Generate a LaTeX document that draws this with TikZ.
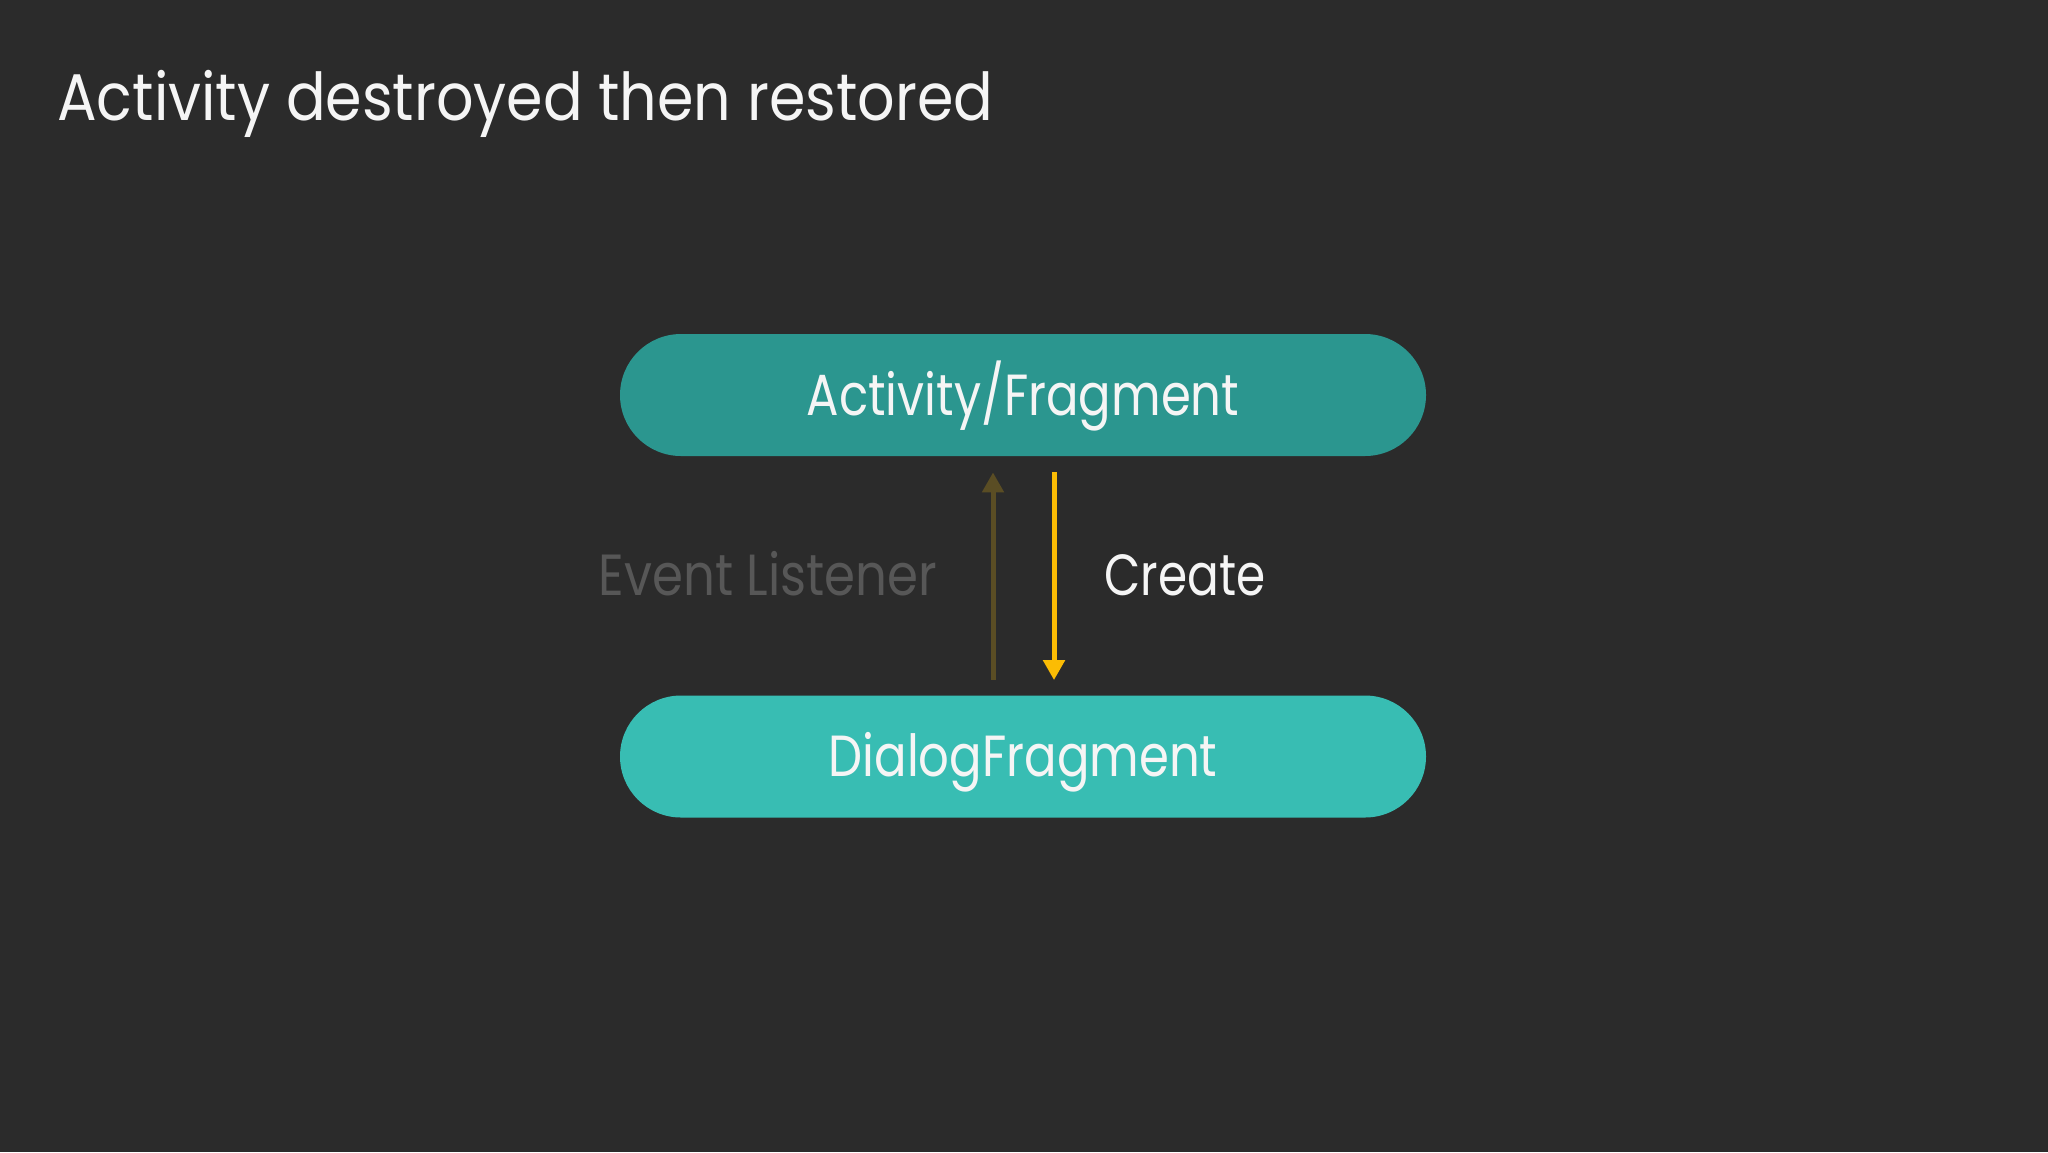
\documentclass[tikz,border=0pt]{standalone}
\usepackage{fontspec}
\setmainfont{Poppins}
\newfontfamily\titlefont[FakeStretch=0.89]{Poppins}
\newfontfamily\boxfont[FakeStretch=0.83]{Poppins}
\newfontfamily\evfont[FakeStretch=0.86]{Poppins}
\newfontfamily\crfont[FakeStretch=0.81]{Poppins}
\usetikzlibrary{arrows.meta}
\definecolor{bgc}{HTML}{2B2B2B}
\definecolor{topbox}{HTML}{2B968F}
\definecolor{botbox}{HTML}{38BDB3}
\definecolor{ylw}{HTML}{FBBC04}
\definecolor{dimarr}{HTML}{5A4D24}
\definecolor{dimtxt}{HTML}{575757}
\definecolor{wtxt}{HTML}{F5F5F5}
\tikzset{
  pill/.style={draw=none, rectangle, rounded corners=30.5pt, minimum width=403pt, minimum height=61pt, inner sep=0pt},
  boxtext/.style={text=wtxt, font=\boxfont\fontsize{29}{34}\selectfont, anchor=base, inner sep=0pt},
  sidetext/.style={font=\fontsize{29}{34}\selectfont, anchor=base, inner sep=0pt},
  arr/.style={line width=2.5pt, -{Triangle[width=10.5pt,length=10pt]}},
}
\begin{document}
\begin{tikzpicture}[x=0.5pt,y=-0.5pt]
\fill[bgc] (0,0) rectangle (2048,1152);
\useasboundingbox (0,0) rectangle (2048,1152);
\node[anchor=base west, inner sep=0pt, text=wtxt, font=\titlefont\fontsize{33}{40}\selectfont] (title) at (57,120) {Activity destroyed then restored};
\node[pill, fill=topbox] (top) at (1023,395) {};
\node[pill, fill=botbox] (bot) at (1023,756.5) {};
\node[boxtext] (toptext) at (1023,415) {Activity/Fragment};
\node[boxtext] (bottext) at (1023,776) {DialogFragment};
\draw[arr, draw=dimarr, fill=dimarr] ([xshift=-15pt,yshift=7.5pt]bot.north) -- ([xshift=-15pt,yshift=-8pt]top.south);
\draw[arr, draw=ylw, fill=ylw] ([xshift=15.5pt,yshift=-8pt]top.south) -- ([xshift=15.5pt,yshift=7.5pt]bot.north);
\node[sidetext, text=dimtxt, font=\evfont\fontsize{29}{34}\selectfont] (evl) at (768,595) {Event Listener};
\node[sidetext, text=wtxt, anchor=base west, font=\crfont\fontsize{29}{34}\selectfont] (create) at (1104,595) {Create};
\end{tikzpicture}
\end{document}
